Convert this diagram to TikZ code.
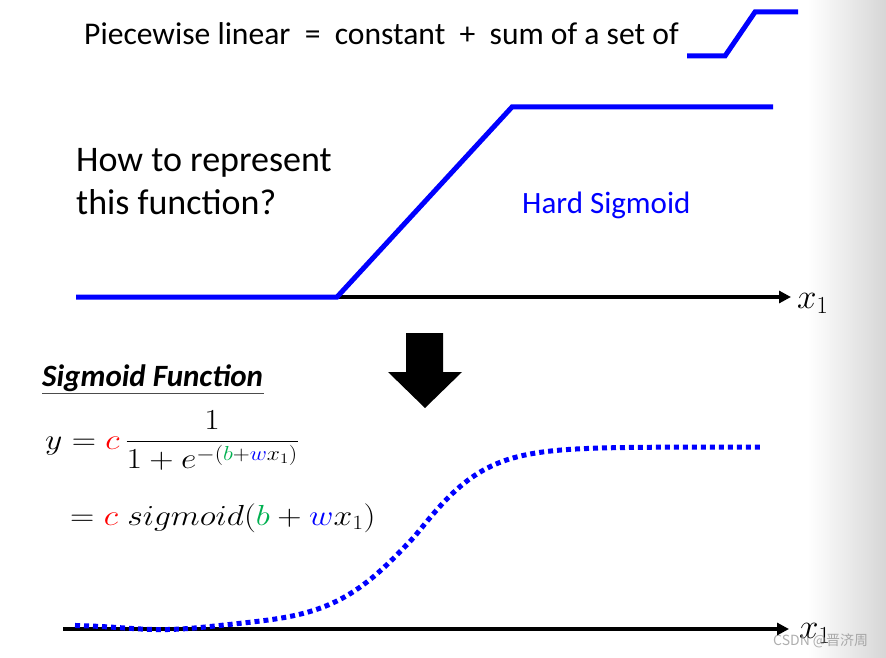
\RequirePackage{fix-cm}
\documentclass[tikz,border=0pt]{standalone}
\usepackage{amsmath}
\usepackage{fontspec}
\setmainfont{Carlito}
\newfontfamily\cjk{Noto Sans CJK SC}
\usetikzlibrary{arrows.meta,positioning}
\definecolor{sgreen}{RGB}{0,176,80}
\definecolor{sblue}{RGB}{0,0,255}
\newcommand{\Col}[2]{{\color{#1}#2}}

\begin{document}
\begin{tikzpicture}[x=1pt,y=-1pt,
		axis/.style={line width=3.5pt,-{Triangle[length=12pt,width=12pt]}},
		hard/.style={sblue,line width=5pt,line join=miter},
		soft/.style={sblue,line width=5pt,dash pattern=on 5pt off 4pt},
		lbl/.style={inner sep=0pt,anchor=base west},
		eq/.style={lbl,xscale=1.16,font=\fontsize{29}{35}\selectfont},
		xlbl/.style={lbl,font=\fontsize{35}{42}\selectfont}]
		% Canvas
		\useasboundingbox (0,0) rectangle (886,658);
		\shade[left color=white,right color=black!16] (808,0) rectangle (886,658);

		% Define nodes
		\node[lbl,font=\fontsize{31.6}{38}\selectfont] (title) at (84,45)
			{Piecewise linear\ \ =\ \ constant\ \ +\ \ sum of a set of};
		\node[lbl,font=\fontsize{36}{43}\selectfont,align=left] (ask) at (76,214)
			{How to represent\\this function?};
		\node[lbl,font=\fontsize{31}{37}\selectfont,text=sblue] (hard) at (522,213) {Hard Sigmoid};
		\node[lbl,font=\fontsize{31}{37}\selectfont\bfseries\itshape] (sig) at (42,386) {Sigmoid Function};
		\node[eq] (eqa) at (45,449)
			{$\displaystyle y = \Col{red}{c}\,\frac{1}{1+e^{-(\Col{sgreen}{b}+\Col{sblue}{w}x_1)}}$};
		\node[eq] (eqb) at (70,525)
			{$= \Col{red}{c}\; sigmoid(\Col{sgreen}{b}+\Col{sblue}{w}x_1)$};
		\node[xlbl] (xa) at (797,308) {$x_1$};
		\node[xlbl] (xb) at (799,638) {$x_1$};
		\node[lbl,font=\cjk\fontsize{14}{16}\selectfont,text=black!45,opacity=0.7] (mark) at (773,645) {CSDN @晋济周};

		% Axes
		\coordinate (a0) at (76,297);
		\coordinate (a1) at (791,297);
		\coordinate (b0) at (63,629);
		\coordinate (b1) at (789,629);
		\draw[axis] (a0) -- (a1);
		\draw[axis] (b0) -- (b1);

		% Hard sigmoid and its small copy
		\draw[hard] (a0) -- (337,297) -- (512,107) -- (773,107);
		\draw[hard] (687,56) -- (725,56) -- (755,12) -- (798,12);
		\draw[black!70,line width=1pt] (sig.base west) ++(0,7) -- ++(222,0);

		% Sigmoid
		\draw[soft] plot[domain=75:760,samples=90,smooth]
			(\x,{625+5*exp(-min(9,((\x-165)/60)^2))
				-178/(1+exp(-max(-8,min(8,(\x-415)/(\x<415 ? 42 : 36)))))});

		% Block arrow
		\fill (406,333) -- (443,333) -- (443,372) -- (462,372) -- (425,408)
			-- (388,372) -- (406,372) -- cycle;
	\end{tikzpicture}
\end{document}
